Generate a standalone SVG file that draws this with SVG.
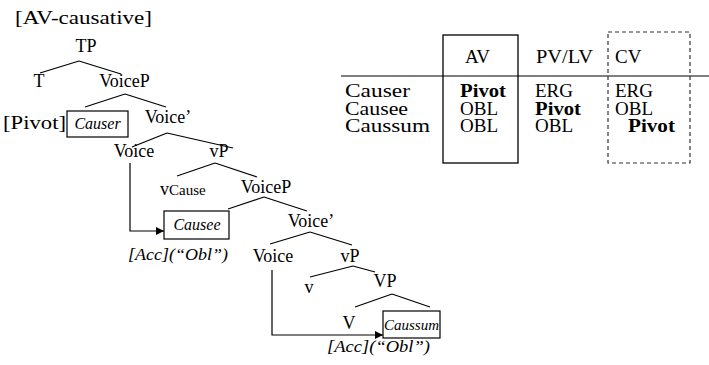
<svg xmlns="http://www.w3.org/2000/svg" width="709" height="365" viewBox="0 0 709 365">
<style>
text{font-family:"Liberation Serif","Times New Roman",serif;font-size:18px;fill:#000}
.m{text-anchor:middle}
.i{font-style:italic}
.b{font-weight:bold}
.w{font-size:19px}
.e{stroke:#000;stroke-width:1.2;fill:none}
.box{stroke:#000;stroke-width:1.2;fill:#fff}
</style>
<defs>
<marker id="ah" viewBox="0 0 10 10" refX="10" refY="5" markerWidth="11" markerHeight="8" markerUnits="userSpaceOnUse" orient="auto">
<path d="M0,0 L10,5 L0,10 z" fill="#000"/>
</marker>
</defs>
<rect width="709" height="365" fill="#fff"/>
<text class="w" x="15" y="24" textLength="137" lengthAdjust="spacingAndGlyphs">[AV-causative]</text>

<g id="edges">
<line class="e" x1="79" y1="61" x2="40" y2="73"/>
<line class="e" x1="79" y1="61" x2="121" y2="74"/>
<line class="e" x1="125" y1="94" x2="85" y2="107"/>
<line class="e" x1="125" y1="94" x2="166" y2="107"/>
<line class="e" x1="167" y1="133" x2="132" y2="147"/>
<line class="e" x1="167" y1="133" x2="233" y2="148"/>
<line class="e" x1="215" y1="163" x2="177" y2="176"/>
<line class="e" x1="215" y1="163" x2="257" y2="177"/>
<line class="e" x1="264" y1="197" x2="228" y2="209"/>
<line class="e" x1="264" y1="197" x2="307" y2="211"/>
<line class="e" x1="310" y1="232" x2="270" y2="244"/>
<line class="e" x1="310" y1="232" x2="352" y2="245"/>
<line class="e" x1="353" y1="266" x2="310" y2="277"/>
<line class="e" x1="353" y1="266" x2="375" y2="272"/>
<line class="e" x1="392" y1="294" x2="355" y2="307"/>
<line class="e" x1="392" y1="294" x2="430" y2="307"/>
<path class="e" d="M130,163 V231 H164" marker-end="url(#ah)"/>
<path class="e" d="M272,270 V335 H383" marker-end="url(#ah)"/>
</g>

<g id="TP"><text class="m" x="86" y="52">TP</text></g>
<g id="T"><text class="m" x="39" y="87">T</text></g>
<g id="VoiceP1"><text class="m" x="124.5" y="87">VoiceP</text></g>
<g id="Causer">
<text class="w" x="3" y="129" textLength="63" lengthAdjust="spacingAndGlyphs">[Pivot]</text>
<rect class="box" x="67" y="111" width="61" height="26"/>
<text class="i m" x="97.5" y="129" style="font-size:16px">Causer</text>
</g>
<g id="VoiceBar1"><text class="m" x="168" y="123">Voice’</text></g>
<g id="Voice1"><text class="m" x="134" y="157">Voice</text></g>
<g id="vP1"><text class="m" x="219" y="157">vP</text></g>
<g id="vCause"><text x="160" y="195">v<tspan style="font-size:15px">Cause</tspan></text></g>
<g id="VoiceP2"><text class="m" x="266" y="193">VoiceP</text></g>
<g id="Causee">
<rect class="box" x="164" y="211" width="65" height="28"/>
<text class="i m" x="197" y="230" style="font-size:16px">Causee</text>
<text class="i" x="128" y="260" textLength="100" lengthAdjust="spacingAndGlyphs" style="font-size:17px">[Acc](“Obl”)</text>
</g>
<g id="VoiceBar2"><text class="m" x="311" y="227">Voice’</text></g>
<g id="Voice2"><text class="m" x="273" y="262">Voice</text></g>
<g id="vP2"><text class="m" x="350" y="262">vP</text></g>
<g id="v"><text class="m" x="309" y="293">v</text></g>
<g id="VP"><text class="m" x="385" y="287">VP</text></g>
<g id="V"><text class="m" x="349" y="329">V</text></g>
<g id="Caussum">
<rect class="box" x="383" y="311" width="57" height="27"/>
<text class="i m" x="411.5" y="330" style="font-size:15px">Caussum</text>
<text class="i" x="327" y="352" textLength="103" lengthAdjust="spacingAndGlyphs" style="font-size:17px">[Acc](“Obl”)</text>
</g>

<g id="table">
<line x1="341" y1="76" x2="709" y2="76" stroke="#555" stroke-width="1.5"/>
<rect x="443" y="35" width="75" height="128" fill="none" stroke="#000" stroke-width="1.3"/>
<rect x="608" y="32" width="82" height="131" fill="none" stroke="#333" stroke-width="1.2" stroke-dasharray="4,3"/>
<text class="w" x="465" y="63">AV</text>
<text class="w" x="536" y="63" textLength="57" lengthAdjust="spacingAndGlyphs">PV/LV</text>
<text class="w" x="615" y="63">CV</text>
<text class="w" x="345" y="97" textLength="65" lengthAdjust="spacingAndGlyphs">Causer</text>
<text class="w" x="345" y="115" textLength="63" lengthAdjust="spacingAndGlyphs">Causee</text>
<text class="w" x="345" y="132" textLength="85" lengthAdjust="spacingAndGlyphs">Caussum</text>
<text class="w b" x="460" y="97" textLength="46" lengthAdjust="spacingAndGlyphs">Pivot</text>
<text class="w" x="460" y="115">OBL</text>
<text class="w" x="460" y="132">OBL</text>
<text class="w" x="535" y="97">ERG</text>
<text class="w b" x="535" y="115" textLength="46" lengthAdjust="spacingAndGlyphs">Pivot</text>
<text class="w" x="535" y="132">OBL</text>
<text class="w" x="615" y="97">ERG</text>
<text class="w" x="615" y="115">OBL</text>
<text class="w b" x="628" y="132" textLength="47" lengthAdjust="spacingAndGlyphs">Pivot</text>
</g>
</svg>
